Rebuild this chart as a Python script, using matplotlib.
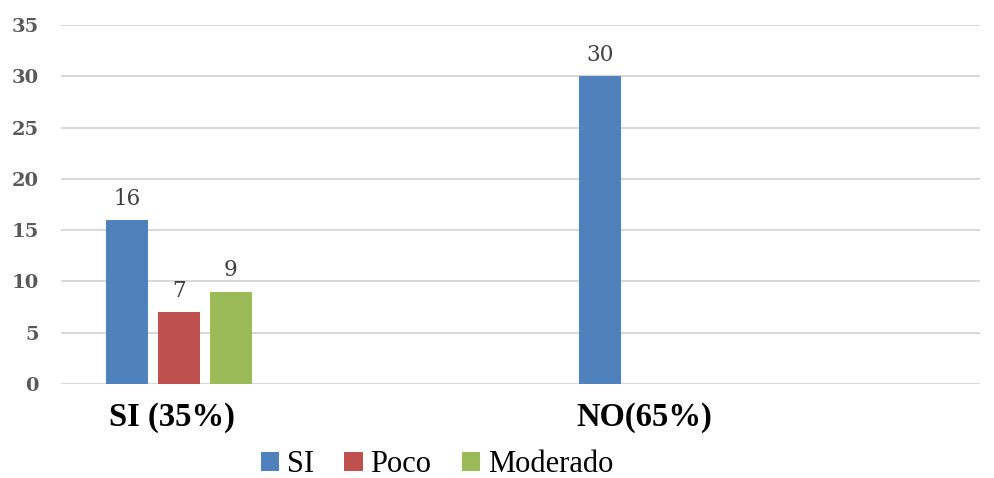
import numpy as np
import matplotlib.pyplot as plt
import matplotlib.transforms as mtransforms

# datos por categoría
categorias = ["SI (35%)", "NO(65%)"]
si = [16, 30]
poco = [7, 0]
moderado = [9, 0]

series = [("SI", si, "#4f81bd"), ("Poco", poco, "#c0504d"), ("Moderado", moderado, "#9bbb59")]

fig = plt.figure(figsize=(9.94, 4.78), dpi=100)
ax = fig.add_axes([61/994, 1 - 384/478, (980 - 61)/994, (384 - 25)/478])

x = np.arange(len(categorias))
ancho = 0.089
paso = 0.110

for i, (nombre, vals, color) in enumerate(series):
    pos = x + (i - 1) * paso
    barras = ax.bar(pos, vals, width=ancho, color=color, label=nombre, zorder=3)
    for b, v in zip(barras, vals):
        if v > 0:
            ax.annotate(str(v), (b.get_x() + b.get_width() / 2, v), xytext=(0, 11),
                        textcoords="offset points", ha="center", va="baseline",
                        fontsize=15.5, family="DejaVu Serif", color="#404040")

ax.set_xlim(-0.2497, 1.695)
ax.set_ylim(0, 35)
ax.set_yticks(range(0, 36, 5))
ax.yaxis.grid(True, color="#d9d9d9", linewidth=1.5, zorder=0)
ax.set_axisbelow(True)
for s in ax.spines.values():
    s.set_visible(False)
ax.tick_params(length=0)
ax.tick_params(axis="y", pad=16)
ax.tick_params(axis="x", pad=13)

ax.set_xticks(x)
ax.set_xticklabels(categorias, fontsize=23.5, fontweight="bold", family="Liberation Serif")
# etiquetas de categoría un poco corridas a la izquierda
desplaz = mtransforms.ScaledTranslation(-7/100, 0, fig.dpi_scale_trans)
for t in ax.get_xticklabels():
    t.set_transform(t.get_transform() + desplaz)
for t in ax.get_yticklabels():
    t.set_fontsize(14)
    t.set_fontweight("bold")
    t.set_family("DejaVu Serif")
    t.set_color("#595959")

fig.legend(loc="center", bbox_to_anchor=(437/994, 1 - 465/478), ncol=3, frameon=False,
           prop={"family": "Liberation Serif", "size": 22}, handlelength=0.6,
           handleheight=0.6, handletextpad=0.25, columnspacing=1.0)

plt.savefig("out.png", dpi=100)
